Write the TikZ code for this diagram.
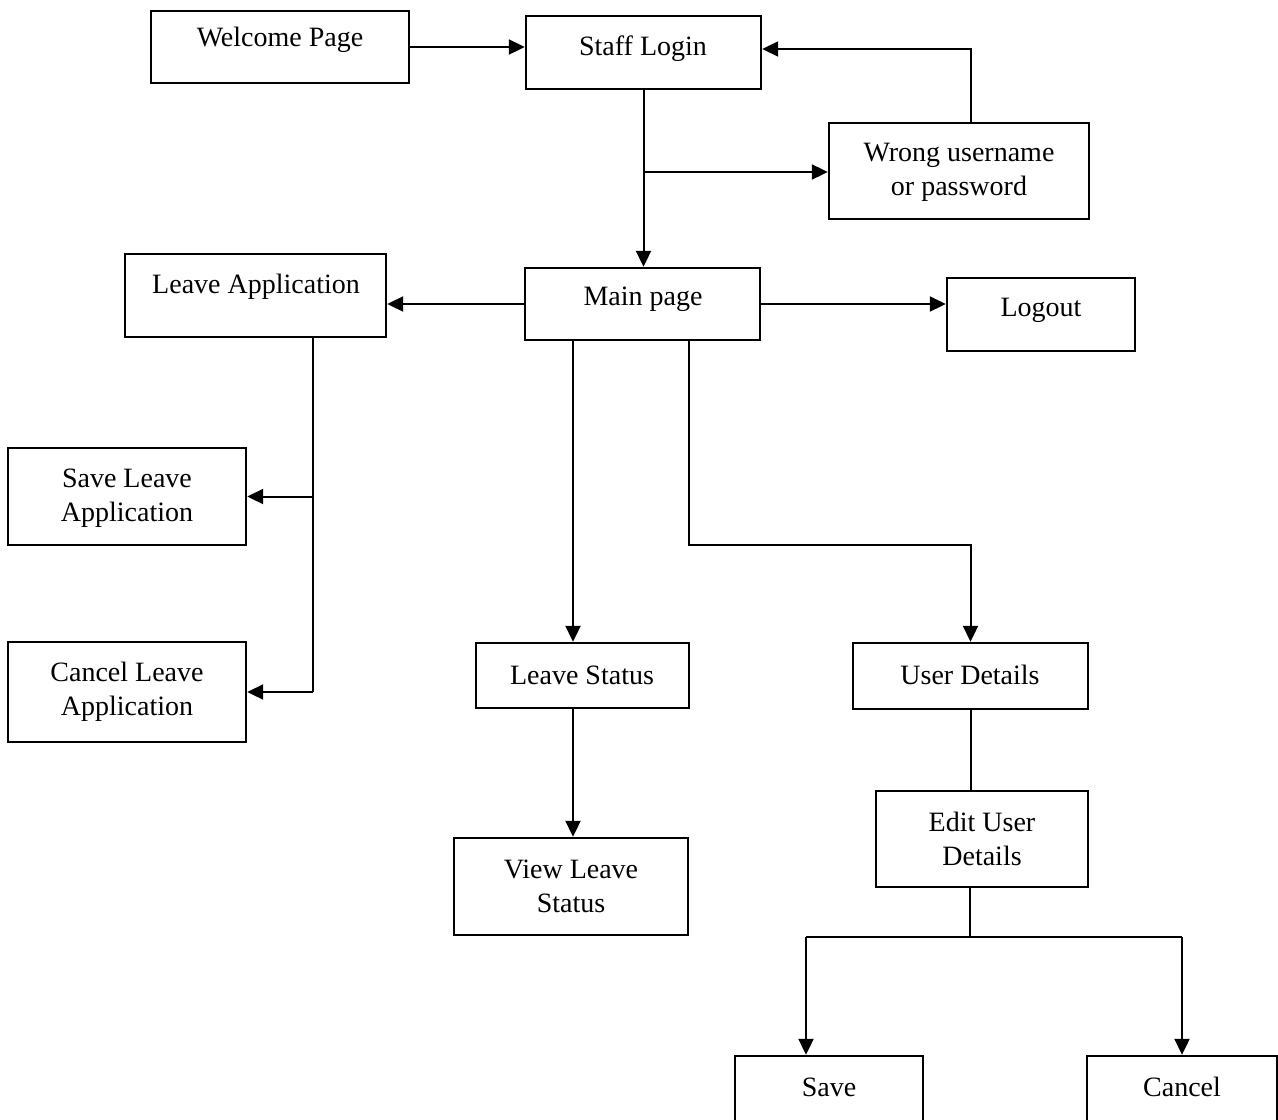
\documentclass[tikz,border=0pt]{standalone}
\usepackage{fontspec}
\setmainfont{Liberation Serif}
\usetikzlibrary{arrows.meta,fit}

\begin{document}
\begin{tikzpicture}[x=0.5pt,y=-0.5pt,
  box/.style={draw,line width=1.2pt,inner sep=0pt,rectangle},
  txt/.style={font=\fontsize{14}{17}\selectfont,align=center,inner sep=0pt},
  link/.style={line width=1pt},
  arrow/.style={link,-{Triangle[length=8pt,width=7.5pt]}}]
\useasboundingbox (0,0) rectangle (1278,1119);
\fill[white] (0,0) rectangle (1278,1119);
\clip (0,0) rectangle (1278,1119);

% boxes
\node[box,fit={(151,11)(409,83)}]    (wel) {};
\node[box,fit={(526,16)(761,89)}]    (login) {};
\node[box,fit={(829,123)(1089,219)}] (wrong) {};
\node[box,fit={(125,254)(386,337)}]  (leaveapp) {};
\node[box,fit={(525,268)(760,340)}]  (main) {};
\node[box,fit={(947,278)(1135,351)}] (logout) {};
\node[box,fit={(8,448)(246,545)}]    (saveapp) {};
\node[box,fit={(8,642)(246,742)}]    (cancelapp) {};
\node[box,fit={(476,643)(689,708)}]  (status) {};
\node[box,fit={(853,643)(1088,709)}] (user) {};
\node[box,fit={(454,838)(688,935)}]  (view) {};
\node[box,fit={(876,791)(1088,887)}] (edit) {};
\node[box,fit={(735,1056)(923,1140)}]  (save) {};
\node[box,fit={(1087,1056)(1277,1140)}] (cancel) {};

% labels
\node[txt] (welT)      at (280,40)   {Welcome Page};
\node[txt] (loginT)    at (643,49)   {Staff Login};
\node[txt] (wrongT)    at (959,172)  {Wrong username\\or password};
\node[txt] (leaveappT) at (256,287)  {Leave Application};
\node[txt] (mainT)     at (643,299)  {Main page};
\node[txt] (logoutT)   at (1041,310) {Logout};
\node[txt] (saveappT)  at (127,498)  {Save Leave\\Application};
\node[txt] (cancelappT) at (127,692) {Cancel Leave\\Application};
\node[txt] (statusT)   at (582,675)  {Leave Status};
\node[txt] (userT)     at (970,675)  {User Details};
\node[txt] (viewT)     at (571,886)  {View Leave\\Status};
\node[txt] (editT)     at (982,839)  {Edit User\\Details};
\node[txt] (saveT)     at (829,1087) {Save};
\node[txt] (cancelT)   at (1182,1087) {Cancel};

% junction points of the connectors
\coordinate (wrongup)  at (971,49);
\coordinate (lgbranch) at (643,172);
\coordinate (latrunk)  at (313,692);
\coordinate (stline)   at (573,500);
\coordinate (mubend)   at (689,545);
\coordinate (edbranch) at (970,937);
\coordinate (svx)      at (806,937);

% connectors
\draw[arrow] (wel.east) -- (wel.east -| login.west);
\draw[arrow] (wrongup |- wrong.north) -- (wrongup) -- (wrongup -| login.east);
\draw[arrow] (login.south) -- (login.south |- main.north);
\draw[arrow] (lgbranch) -- (lgbranch -| wrong.west);
\draw[arrow] (main.west) -- (main.west -| leaveapp.east);
\draw[arrow] (main.east) -- (main.east -| logout.west);

\draw[link]  (leaveapp.south -| latrunk) -- (latrunk);
\draw[arrow] (latrunk |- saveapp.east) -- (saveapp.east);
\draw[arrow] (latrunk) -- (latrunk -| cancelapp.east);

\draw[arrow] (main.south -| stline) -- (stline |- status.north);
\draw[arrow] (status.south -| stline) -- (stline |- view.north);

\draw[arrow] (main.south -| mubend) -- (mubend) -- (mubend -| user.north) -- (user.north);
\draw[link]  (user.south) -- (user.south |- edit.north);

\draw[link]  (edit.south -| edbranch) -- (edbranch);
\draw[link]  (edbranch -| cancel.north) -- (svx);
\draw[arrow] (svx) -- (svx |- save.north);
\draw[arrow] (edbranch -| cancel.north) -- (cancel.north);
\end{tikzpicture}
\end{document}
